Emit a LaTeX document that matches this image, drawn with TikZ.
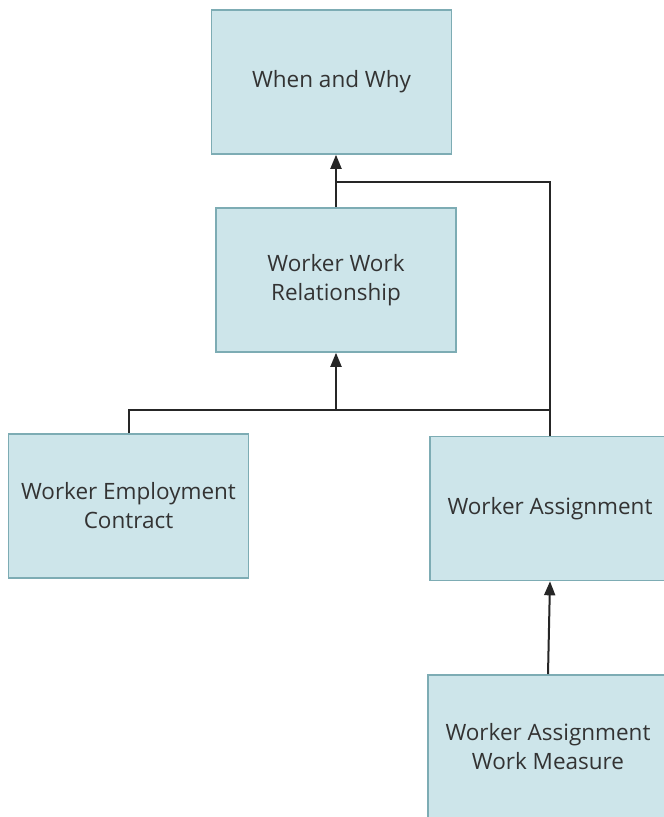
\documentclass[tikz,border=0pt]{standalone}
\usepackage{fontspec}
\setmainfont{Open Sans}
\usetikzlibrary{arrows.meta}
\definecolor{boxfill}{HTML}{CDE5EA}
\definecolor{boxline}{HTML}{7DACB4}
\definecolor{txt}{HTML}{333333}
\tikzset{
  ent/.style={draw=boxline, fill=boxfill, line width=1.6pt, minimum width=240pt, minimum height=144pt,
    align=center, text=txt, font=\fontsize{22.5}{29}\selectfont, inner sep=0pt},
  conn/.style={line width=2pt, black!85},
  arr/.style={conn, -{Triangle[length=14pt,width=11pt]}}
}
\begin{document}
\begin{tikzpicture}[x=1pt,y=-1pt]
\useasboundingbox (0,0) rectangle (664,817);
\clip (0,0) rectangle (664,817);
\node[ent] (b1) at (331.5,82) {When and Why};
\node[ent] (b2) at (336,280) {Worker Work\\Relationship};
\node[ent] (b3) at (128.5,506) {Worker Employment\\Contract};
\node[ent] (b4) at (550,508.5) {Worker Assignment};
\node[ent] (b5) at (548,747) {Worker Assignment\\Work Measure};
\coordinate (j1) at (336,182);
\coordinate (j2) at (336,410);
\coordinate (j3) at (550,410);
\draw[arr] (b2.north) -- (b2.north |- b1.south);
\draw[conn] (j1) -| (b4.north);
\draw[conn] (b3.north) |- (j3);
\draw[arr] (j2) -- (b2.south);
\draw[arr] (b5.north) -- (b4.south);
\end{tikzpicture}
\end{document}
